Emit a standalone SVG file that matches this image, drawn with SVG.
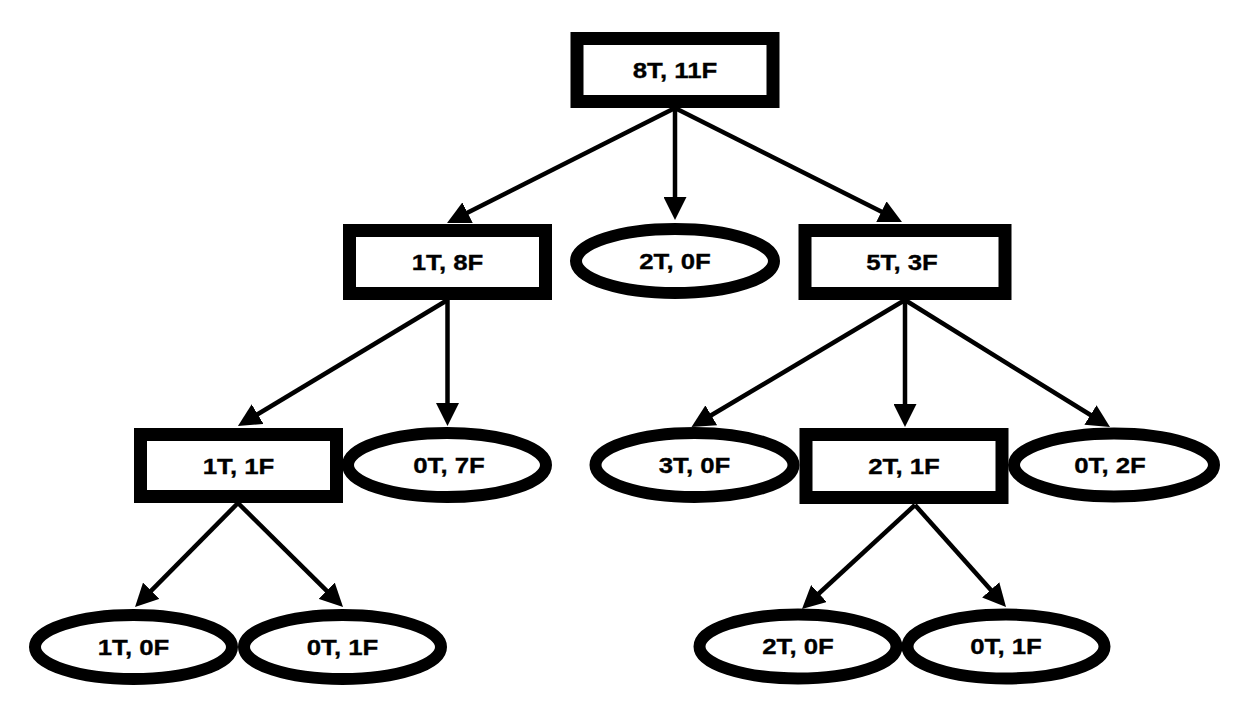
<svg xmlns="http://www.w3.org/2000/svg" width="1250" height="716" viewBox="0 0 1250 716">
  <style>
    .box { fill: #ffffff; stroke: #000000; stroke-width: 13; }
    .leaf { fill: #ffffff; stroke: #000000; stroke-width: 12; }
    .lbl { font-family: "Liberation Sans", Arial, Helvetica, sans-serif; font-weight: bold; font-size: 21.5px; fill: #000000; stroke: #000000; stroke-width: 0.3; text-anchor: middle; }
    .edge { stroke: #000000; stroke-width: 4.5; fill: none; marker-end: url(#arr); }
  </style>
  <defs>
    <marker id="arr" markerUnits="userSpaceOnUse" markerWidth="23" markerHeight="23" refX="3" refY="11.5" orient="auto" viewBox="0 0 23 23">
      <path d="M0,0 L23,11.5 L0,23 z" fill="#000000"/>
    </marker>
  </defs>
  <rect x="0" y="0" width="1250" height="716" fill="#ffffff"/>

  <g id="connectors">
    <line class="edge" x1="675" y1="108" x2="464.9" y2="214.0"/>
    <line class="edge" x1="675" y1="108" x2="675" y2="200"/>
    <line class="edge" x1="675" y1="108" x2="884.1" y2="213.0"/>
    <line class="edge" x1="447.5" y1="300" x2="255.1" y2="415.7"/>
    <line class="edge" x1="447.5" y1="300" x2="447.5" y2="406"/>
    <line class="edge" x1="905" y1="300" x2="708.7" y2="416.8"/>
    <line class="edge" x1="905" y1="300" x2="905" y2="407"/>
    <line class="edge" x1="905" y1="300" x2="1093.0" y2="416.5"/>
    <line class="edge" x1="238" y1="503" x2="149.1" y2="592.8"/>
    <line class="edge" x1="238" y1="503" x2="328.8" y2="592.9"/>
    <line class="edge" x1="915" y1="505" x2="816.7" y2="595.5"/>
    <line class="edge" x1="915" y1="505" x2="992.7" y2="592.1"/>
  </g>

  <g id="n-root">
    <rect class="box" x="577" y="38.5" width="196" height="63"/>
    <text class="lbl" transform="translate(675,77.5) scale(1.2,1)">8T, 11F</text>
  </g>
  <g id="n-1t8f">
    <rect class="box" x="349.5" y="230.5" width="196" height="63"/>
    <text class="lbl" transform="translate(447.5,269.5) scale(1.2,1)">1T, 8F</text>
  </g>
  <g id="n-2t0f-a">
    <ellipse class="leaf" cx="675" cy="261" rx="99" ry="32"/>
    <text class="lbl" transform="translate(675,268.5) scale(1.2,1)">2T, 0F</text>
  </g>
  <g id="n-5t3f">
    <rect class="box" x="805" y="230.5" width="200" height="63"/>
    <text class="lbl" transform="translate(902,269.5) scale(1.2,1)">5T, 3F</text>
  </g>
  <g id="n-1t1f">
    <rect class="box" x="140.5" y="434.5" width="196" height="62"/>
    <text class="lbl" transform="translate(238.5,473.5) scale(1.2,1)">1T, 1F</text>
  </g>
  <g id="n-0t7f">
    <ellipse class="leaf" cx="447" cy="465" rx="99" ry="32"/>
    <text class="lbl" transform="translate(449,472.5) scale(1.2,1)">0T, 7F</text>
  </g>
  <g id="n-3t0f">
    <ellipse class="leaf" cx="694.5" cy="465" rx="99" ry="32"/>
    <text class="lbl" transform="translate(694.5,472.5) scale(1.2,1)">3T, 0F</text>
  </g>
  <g id="n-2t1f">
    <rect class="box" x="806" y="434.5" width="196" height="63"/>
    <text class="lbl" transform="translate(904,473.5) scale(1.2,1)">2T, 1F</text>
  </g>
  <g id="n-0t2f">
    <ellipse class="leaf" cx="1114" cy="465" rx="100" ry="31.5"/>
    <text class="lbl" transform="translate(1110,472.5) scale(1.2,1)">0T, 2F</text>
  </g>
  <g id="n-1t0f">
    <ellipse class="leaf" cx="133.5" cy="647" rx="98.5" ry="32"/>
    <text class="lbl" transform="translate(133.5,654.5) scale(1.2,1)">1T, 0F</text>
  </g>
  <g id="n-0t1f-a">
    <ellipse class="leaf" cx="342.5" cy="647" rx="98.5" ry="32"/>
    <text class="lbl" transform="translate(342.5,654.5) scale(1.2,1)">0T, 1F</text>
  </g>
  <g id="n-2t0f-b">
    <ellipse class="leaf" cx="798" cy="646.5" rx="98.5" ry="32"/>
    <text class="lbl" transform="translate(798,654) scale(1.2,1)">2T, 0F</text>
  </g>
  <g id="n-0t1f-b">
    <ellipse class="leaf" cx="1006" cy="646.5" rx="98.5" ry="32"/>
    <text class="lbl" transform="translate(1006,654) scale(1.2,1)">0T, 1F</text>
  </g>
</svg>
